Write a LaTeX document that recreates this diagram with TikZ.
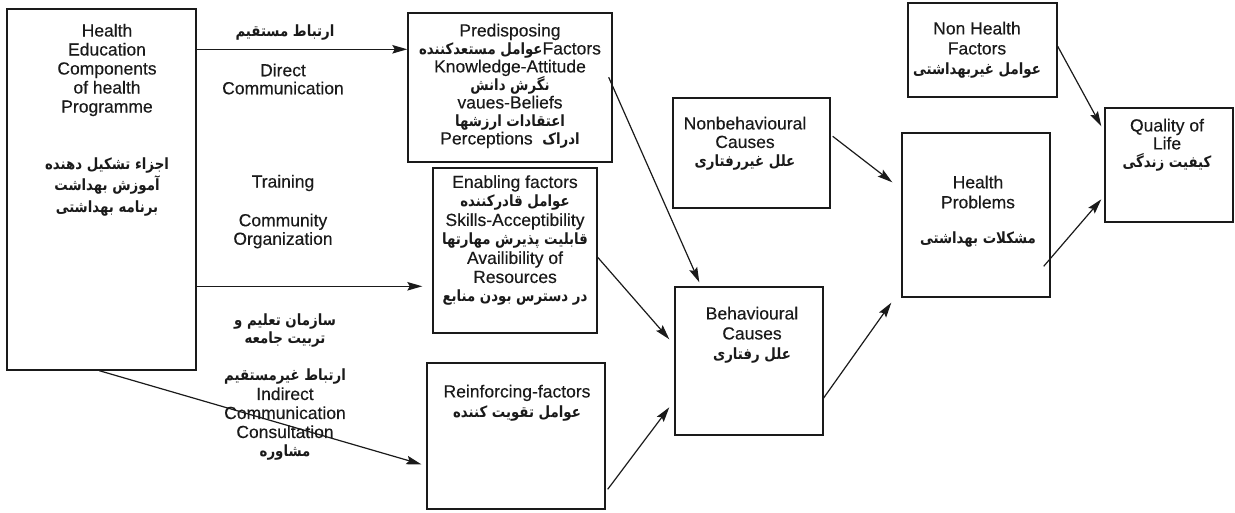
\documentclass[tikz,border=0pt]{standalone}
\usepackage{fontspec}
\setmainfont[FakeBold=0.3]{Liberation Sans}
\newfontfamily\fafont[Script=Arabic, FakeStretch=0.86]{DejaVu Sans}
\TeXXeTstate=1
\usetikzlibrary{arrows.meta}
% Persian (right-to-left) run in bold
\newcommand\fat[1]{{\fafont\bfseries\fontsize{15.5}{16}\selectfont\beginR #1\endR}}
\definecolor{ink}{HTML}{1A1A1A}
\tikzset{
  box/.style={draw=ink, line width=1.4pt, inner sep=0pt},
  txt/.style={text=ink, align=center, inner sep=0pt, font=\fontsize{17.5}{#1}\selectfont},
  txt/.default=18.5,
  arr/.style={draw=ink, line width=1.2pt, -{Stealth[length=15pt,width=8.5pt,inset=2.5pt]}}
}
\begin{document}
\begin{tikzpicture}[x=1pt,y=-1pt]
\useasboundingbox (0,0) rectangle (1235,513);

% boxes
\node[box, minimum width=189pt, minimum height=361pt] (lhs)  at (101.5,189.5) {};
\node[box, minimum width=204pt, minimum height=149pt] (pre)  at (510,87.5) {};
\node[box, minimum width=164pt, minimum height=165pt] (ena)  at (515,250.5) {};
\node[box, minimum width=178pt, minimum height=146pt] (rei)  at (516,436) {};
\node[box, minimum width=157pt, minimum height=110pt] (nonb) at (751.5,153) {};
\node[box, minimum width=148pt, minimum height=148pt] (beh)  at (749,361) {};
\node[box, minimum width=148pt, minimum height=164pt] (hp)   at (976,215) {};
\node[box, minimum width=149pt, minimum height=94pt]  (nhf)  at (982.5,50) {};
\node[box, minimum width=128pt, minimum height=114pt] (qol)  at (1169,165) {};

% box texts
\node[txt=19] (lhsEn) at (107,70) {Health\\Education\\Components\\of health\\Programme};
\node[txt=21.5] (lhsFa) at (107,187) {\fat{اجزاء تشکیل دهنده}\\\fat{آموزش بهداشت}\\\fat{برنامه بهداشتی}};

\node[txt=18] (preT) at (510,86) {Predisposing\\
  \fat{عوامل مستعدکننده}Factors\\
  Knowledge-Attitude\\
  \fat{نگرش دانش}\\
  vaues-Beliefs\\
  \fat{اعتقادات ارزشها}\\
  Perceptions\ \ \fat{ادراک}};

\node[txt=19] (enaT) at (515,240.5) {Enabling factors\\
  \fat{عوامل قادرکننده}\\
  Skills-Acceptibility\\
  \fat{قابلیت پذیرش مهارتها}\\
  Availibility of\\
  Resources\\
  \fat{در دسترس بودن منابع}};

\node[txt=20] (reiT) at (517,403) {Reinforcing-factors\\\fat{عوامل تقویت کننده}};
\node[txt=18.5] (nonbT) at (745,143.5) {Nonbehavioural\\Causes\\\fat{علل غیررفتاری}};
\node[txt=20] (behT) at (752,335) {Behavioural\\Causes\\\fat{علل رفتاری}};
\node[txt=20] (nhfT) at (977,50) {Non Health\\Factors\\\fat{عوامل غیربهداشتی}};
\node[txt=20] (hpT) at (978,192) {Health\\Problems};
\node[txt] (hpFa) at (978,240) {\fat{مشکلات بهداشتی}};
\node[txt=18] (qolT) at (1167,145) {Quality of\\Life\\\fat{کیفیت زندگی}};

% labels along the links
\node[txt] (dcFa) at (285,33) {\fat{ارتباط مستقیم}};
\node[txt=18] (dcEn) at (283,79) {Direct\\Communication};
\node[txt] (trn) at (283,183) {Training};
\node[txt=18.5] (co) at (283,231) {Community\\Organization};
\node[txt=18] (coFa) at (285,331) {\fat{سازمان تعلیم و}\\\fat{تربیت جامعه}};
\node[txt=19] (ind) at (285,415) {\fat{ارتباط غیرمستقیم}\\Indirect\\Communication\\Consultation\\\fat{مشاوره}};

% connectors
\draw[arr] ([yshift=-41pt]lhs.north east) -- ([yshift=-37pt]pre.north west);
\draw[arr] ([yshift=-278pt]lhs.north east) -- ([xshift=-10pt,yshift=-119pt]ena.north west);
\draw[arr] ([xshift=93pt]lhs.south west) -- ([xshift=-5pt,yshift=-102pt]rei.north west);
\draw[arr] ([xshift=-4pt,yshift=-65pt]pre.north east) -- ([xshift=25pt,yshift=4pt]beh.north west);
\draw[arr] ([yshift=-90pt]ena.north east) -- ([xshift=-5pt,yshift=-53pt]beh.north west);
\draw[arr] ([xshift=2pt,yshift=-127pt]rei.north east) -- ([xshift=-5pt,yshift=-121pt]beh.north west);
\draw[arr] ([xshift=2pt,yshift=-39pt]nonb.north east) -- ([xshift=-9pt,yshift=-50pt]hp.north west);
\draw[arr] ([xshift=-1pt,yshift=-113pt]beh.north east) -- ([xshift=-10pt,yshift=-5pt]hp.south west);
\draw[arr] ([yshift=-44pt]nhf.north east) -- ([xshift=-3pt,yshift=-19pt]qol.north west);
\draw[arr] ([xshift=-7pt,yshift=-134pt]hp.north east) -- ([xshift=-3pt,yshift=-92pt]qol.north west);
\end{tikzpicture}
\end{document}
